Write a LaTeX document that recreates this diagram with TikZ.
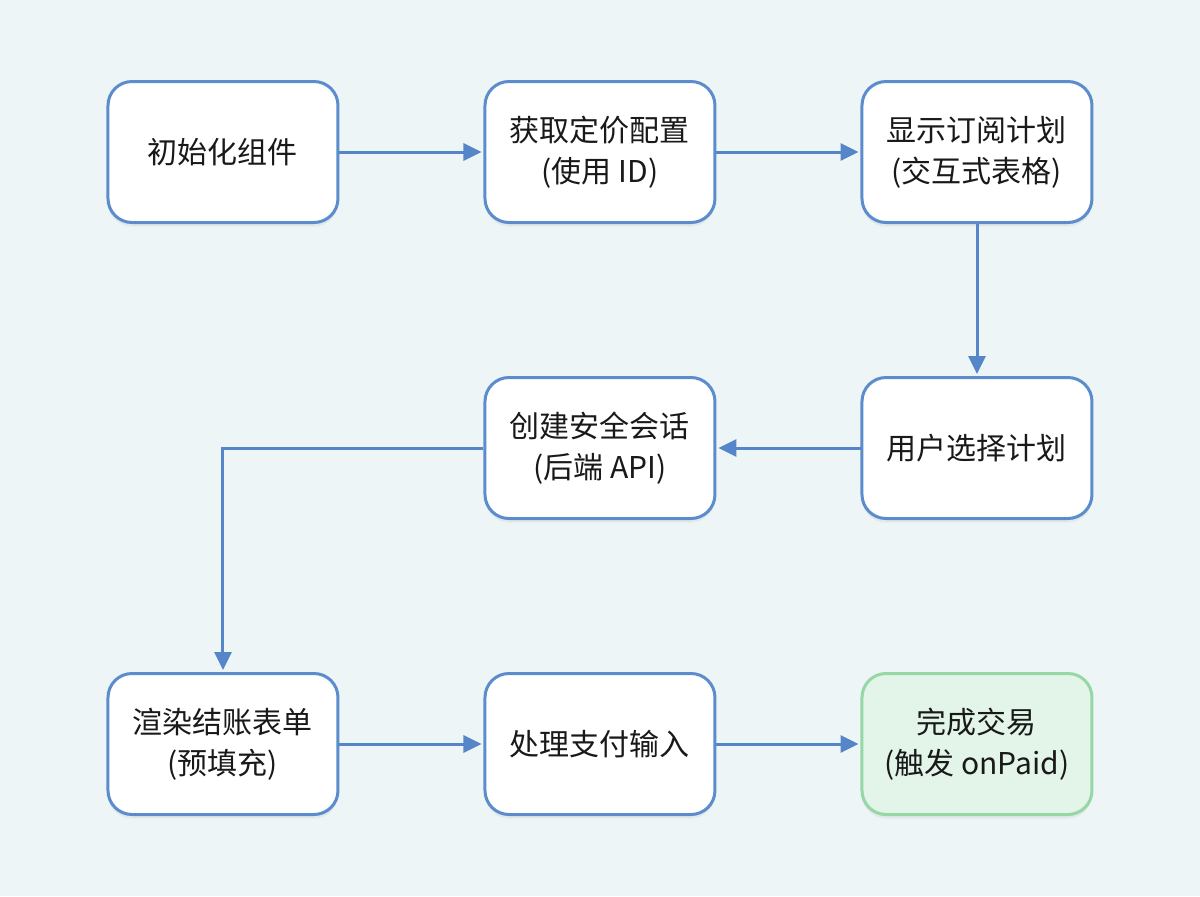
\documentclass[tikz,border=0pt]{standalone}
\usepackage{fontspec}
\setmainfont{Noto Sans CJK SC}
\usepackage{tikz}
\usetikzlibrary{matrix,arrows.meta,shadows}

\definecolor{bgcol}{HTML}{EEF5F6}
\definecolor{boxblue}{HTML}{5B8CCB}
\definecolor{arrowblue}{HTML}{5587C8}
\definecolor{donefill}{HTML}{E2F5E8}
\definecolor{doneline}{HTML}{95D7A5}

\tikzset{
	stepbox/.style={draw=boxblue, fill=white, line width=1.5pt, rounded corners=12pt,
		minimum width=115pt, minimum height=70.5pt, align=center,
		font=\fontsize{15}{20.5}\selectfont, text=black!90,
		drop shadow={opacity=0.10, shadow xshift=0pt, shadow yshift=-2pt}},
	donebox/.style={stepbox, draw=doneline, fill=donefill},
	flow/.style={-{Triangle[length=9pt,width=8.5pt]}, line width=1.5pt, draw=arrowblue, shorten >=1pt}
}

\begin{document}
\begin{tikzpicture}
\fill[bgcol] (-300pt,-224pt) rectangle (300pt,224pt);
\useasboundingbox (-300pt,-224pt) rectangle (300pt,224pt);
\matrix (m) [row sep=76pt, column sep=72pt]
{
	\node[stepbox] (init) {初始化组件}; &
	\node[stepbox] (fetch) {获取定价配置\\(使用 ID)}; &
	\node[stepbox] (plans) {显示订阅计划\\(交互式表格)}; \\
	&
	\node[stepbox] (session) {创建安全会话\\(后端 API)}; &
	\node[stepbox] (select) {用户选择计划}; \\
	\node[stepbox] (render) {渲染结账表单\\(预填充)}; &
	\node[stepbox] (pay) {处理支付输入}; &
	\node[donebox] (done) {完成交易\\(触发 onPaid)}; \\
};
\draw[flow] (init) -- (fetch);
\draw[flow] (fetch) -- (plans);
\draw[flow] (plans) -- (select);
\draw[flow] (select) -- (session);
\draw[flow] (session.west) -| (render.north);
\draw[flow] (render) -- (pay);
\draw[flow] (pay) -- (done);
\end{tikzpicture}
\end{document}
